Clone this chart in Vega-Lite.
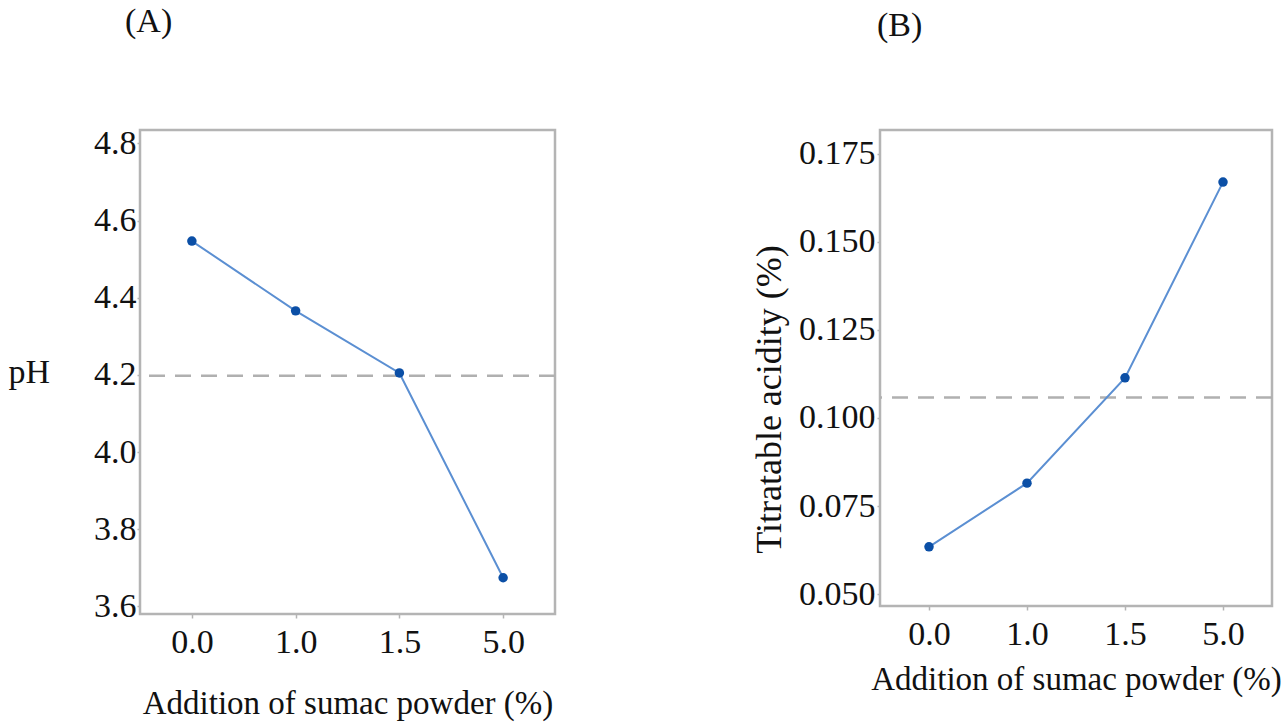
{
  "$schema": "https://vega.github.io/schema/vega-lite/v6.json",
  "background": "white",
  "padding": {"left": 6, "top": 4, "right": 5, "bottom": 5},
  "spacing": 192,
  "datasets": {
    "ph": [
      {"level": "0.0", "value": 4.547},
      {"level": "1.0", "value": 4.366},
      {"level": "1.5", "value": 4.205},
      {"level": "5.0", "value": 3.674}
    ],
    "ta": [
      {"level": "0.0", "value": 0.0634},
      {"level": "1.0", "value": 0.0815},
      {"level": "1.5", "value": 0.1114},
      {"level": "5.0", "value": 0.167}
    ]
  },
  "config": {
    "font": "Liberation Serif",
    "view": {"stroke": "#b4b4b4", "strokeWidth": 2.5},
    "axis": {
      "grid": false,
      "domain": false,
      "labelFont": "Liberation Serif",
      "titleFont": "Liberation Serif",
      "labelFontSize": 34,
      "titleFontSize": 33,
      "labelColor": "#111111",
      "titleColor": "#111111",
      "titleFontWeight": "normal",
      "tickColor": "#b4b4b4",
      "tickSize": 4,
      "tickWidth": 1.5
    },
    "title": {"font": "Liberation Serif", "fontSize": 34, "fontWeight": "normal", "color": "#111111"}
  },
  "hconcat": [
    {
      "title": {"text": "(A)", "anchor": "start", "frame": "group", "offset": 87, "dx": -15},
      "width": 415,
      "height": 484,
      "data": {"name": "ph"},
      "encoding": {
        "x": {
          "field": "level", "type": "ordinal", "sort": ["0.0", "1.0", "1.5", "5.0"],
          "scale": {"type": "point", "padding": 0.5},
          "axis": {"title": "Addition of sumac powder (%)", "labelAngle": 0, "labelPadding": 7, "titlePadding": 28}
        }
      },
      "layer": [
        {
          "mark": {"type": "rule", "strokeDash": [16, 10], "strokeWidth": 2.5, "color": "#b0b0b0"},
          "encoding": {"x": null, "y": {"aggregate": "mean", "field": "value", "type": "quantitative"}}
        },
        {
          "mark": {"type": "line", "color": "#5b8fd2", "strokeWidth": 2},
          "encoding": {
            "y": {
              "field": "value", "type": "quantitative",
              "scale": {"domain": [3.58, 4.835], "nice": false, "zero": false},
              "axis": {"title": "pH", "titleFontSize": 34, "titleAngle": 0, "titleAlign": "right", "titleBaseline": "middle", "titlePadding": 44, "values": [3.6, 3.8, 4.0, 4.2, 4.4, 4.6, 4.8], "format": ".1f", "labelPadding": 1, "tickSize": 3}
            }
          }
        },
        {
          "mark": {"type": "point", "filled": true, "opacity": 1, "color": "#0b4fa6", "size": 90},
          "encoding": {"y": {"field": "value", "type": "quantitative"}}
        }
      ]
    },
    {
      "title": {"text": "(B)", "anchor": "start", "frame": "group", "offset": 87, "dx": -3},
      "width": 392,
      "height": 476,
      "data": {"name": "ta"},
      "encoding": {
        "x": {
          "field": "level", "type": "ordinal", "sort": ["0.0", "1.0", "1.5", "5.0"],
          "scale": {"type": "point", "padding": 0.5},
          "axis": {"title": "Addition of sumac powder (%)", "labelAngle": 0, "labelPadding": 7, "titlePadding": 12}
        }
      },
      "layer": [
        {
          "mark": {"type": "rule", "strokeDash": [16, 10], "strokeWidth": 2.5, "color": "#b0b0b0"},
          "encoding": {"x": null, "y": {"aggregate": "mean", "field": "value", "type": "quantitative"}}
        },
        {
          "mark": {"type": "line", "color": "#5b8fd2", "strokeWidth": 2},
          "encoding": {
            "y": {
              "field": "value", "type": "quantitative",
              "scale": {"domain": [0.0466, 0.1818], "nice": false, "zero": false},
              "axis": {"title": "Titratable acidity (%)", "titleFontSize": 36, "titlePadding": 10, "titleY": 269, "values": [0.05, 0.075, 0.1, 0.125, 0.15, 0.175], "format": ".3f", "labelPadding": 2, "tickSize": 3}
            }
          }
        },
        {
          "mark": {"type": "point", "filled": true, "opacity": 1, "color": "#0b4fa6", "size": 90},
          "encoding": {"y": {"field": "value", "type": "quantitative"}}
        }
      ]
    }
  ]
}
